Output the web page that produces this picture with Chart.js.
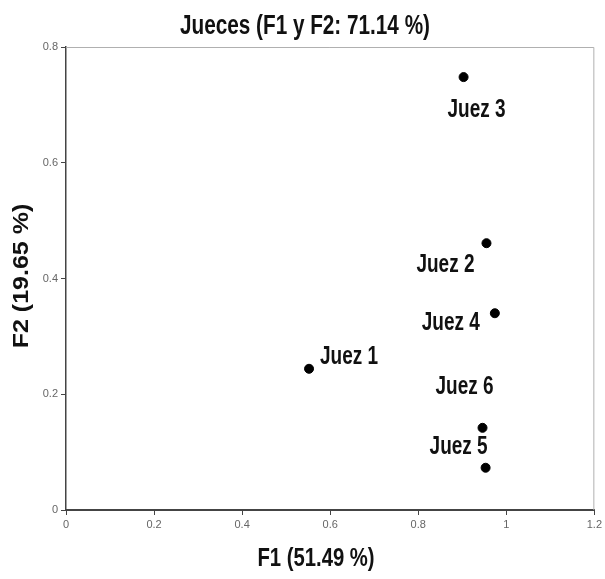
<!DOCTYPE html>
<html>
<head>
<meta charset="utf-8">
<script src="https://cdn.jsdelivr.net/npm/chart.js"></script>
<style>
  html, body { margin: 0; padding: 0; background: #fff; }
  #wrap { width: 605px; height: 579px; }
</style>
</head>
<body>
<div id="wrap"><canvas id="chart" width="605" height="579"></canvas></div>
<script>
// Data
const judges = ["Juez 1", "Juez 2", "Juez 3", "Juez 4", "Juez 5", "Juez 6"];
const f1Values = [0.552, 0.955, 0.903, 0.974, 0.953, 0.946];
const f2Values = [0.244, 0.461, 0.748, 0.340, 0.073, 0.142];
const xTicks = [0, 0.2, 0.4, 0.6, 0.8, 1, 1.2];
const yTicks = [0, 0.2, 0.4, 0.6, 0.8];

const chartTitle = "Jueces (F1 y F2: 71.14 %)";
const xTitle = "F1 (51.49 %)";
const yTitle = "F2 (19.65 %)";

// where each label sits relative to its point (px)
const labelDx = [40, -41, 13, -44, -27, -18];
const labelDy = [-12, 22, 33, 10, -21, -41];

const sans = "'Liberation Sans', Arial, sans-serif";

// the reference uses a condensed bold face; squeeze Liberation Sans to get it
function narrowText(ctx, text, x, y, size, squeeze) {
  ctx.save();
  ctx.translate(x, y);
  ctx.scale(squeeze, 1);
  ctx.font = "bold " + size + "px " + sans;
  ctx.fillText(text, 0, 0);
  ctx.restore();
}

const frame = {
  id: "frame",
  beforeDatasetsDraw(chart) {
    const { ctx, chartArea: a } = chart;
    ctx.save();
    ctx.strokeStyle = "#b0b0b0";
    ctx.lineWidth = 1;
    ctx.beginPath();
    ctx.moveTo(a.left, a.top + 0.5);
    ctx.lineTo(a.right - 0.5, a.top + 0.5);
    ctx.lineTo(a.right - 0.5, a.bottom);
    ctx.stroke();
    ctx.restore();
  },
};

const texts = {
  id: "texts",
  afterDraw(chart) {
    const { ctx } = chart;
    ctx.save();
    ctx.fillStyle = "#111";
    ctx.textAlign = "center";

    ctx.textBaseline = "alphabetic";
    narrowText(ctx, chartTitle, 305, 34, 28, 0.74);
    narrowText(ctx, xTitle, 316, 566, 26, 0.78);

    // y title, rotated
    ctx.save();
    ctx.translate(22, 276);
    ctx.rotate(-Math.PI / 2);
    ctx.scale(1, 0.85);
    ctx.textBaseline = "middle";
    ctx.font = "bold 25px " + sans;
    ctx.fillText(yTitle, 0, 0);
    ctx.restore();

    ctx.textBaseline = "middle";
    const meta = chart.getDatasetMeta(0);
    meta.data.forEach((pt, i) => {
      narrowText(ctx, judges[i], pt.x + labelDx[i], pt.y + labelDy[i], 25, 0.76);
    });
    ctx.restore();
  },
};

new Chart(document.getElementById("chart"), {
  type: "scatter",
  data: {
    datasets: [
      {
        label: "Jueces",
        data: f1Values.map((x, i) => ({ x: x, y: f2Values[i] })),
        backgroundColor: "#000",
        borderColor: "#000",
        pointRadius: 4.5,
      },
    ],
  },
  options: {
    responsive: false,
    animation: false,
    layout: { padding: { top: 47, right: 3 } },
    plugins: {
      legend: { display: false },
      tooltip: { enabled: false },
      title: { display: false },
    },
    scales: {
      x: {
        type: "linear",
        min: 0,
        max: 1.2,
        afterBuildTicks: (scale) => {
          scale.ticks = xTicks.map((v) => ({ value: v }));
        },
        afterFit: (scale) => {
          scale.height = 69;
        },
        border: { color: "#444", width: 2 },
        grid: { drawOnChartArea: false, tickLength: 5, color: "#444" },
        ticks: {
          color: "#666",
          font: { family: sans, size: 11 },
          padding: 3,
          callback: (v) => String(v),
        },
      },
      y: {
        type: "linear",
        min: 0,
        max: 0.8,
        afterBuildTicks: (scale) => {
          scale.ticks = yTicks.map((v) => ({ value: v }));
        },
        afterFit: (scale) => {
          scale.width = 66;
        },
        border: { color: "#444", width: 1.5 },
        grid: { drawOnChartArea: false, tickLength: 5, color: "#444" },
        ticks: {
          color: "#666",
          font: { family: sans, size: 11 },
          padding: 3,
          callback: (v) => String(v),
        },
      },
    },
  },
  plugins: [frame, texts],
});
</script>
</body>
</html>
